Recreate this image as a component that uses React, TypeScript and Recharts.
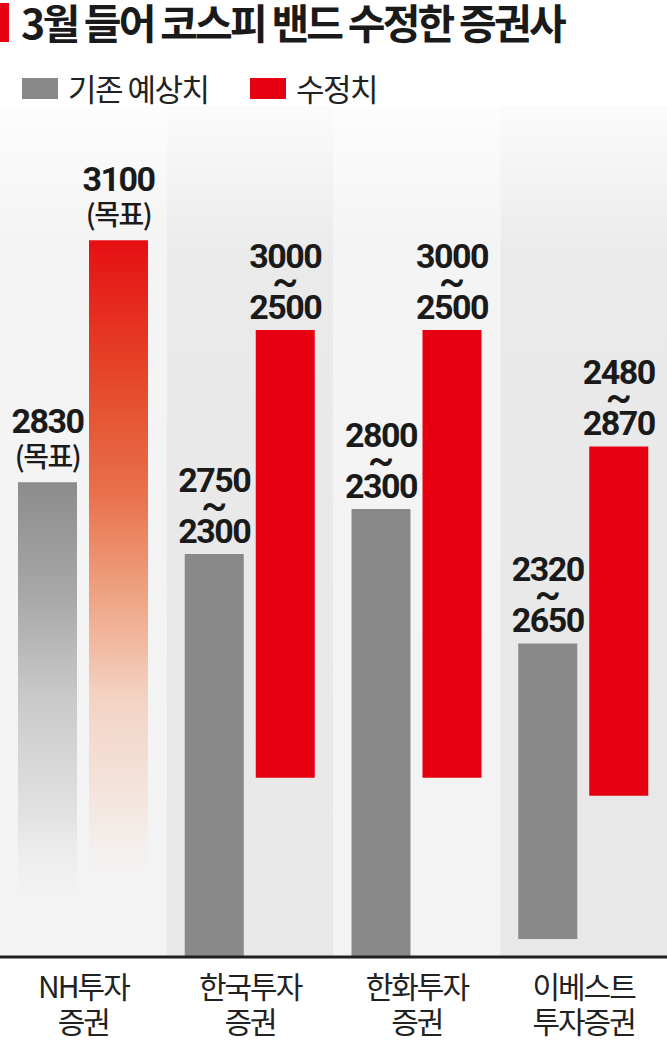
import React from 'react';
import { BarChart, Bar, XAxis, YAxis, Cell, LabelList, ReferenceArea } from 'recharts';

// 증권사별 코스피 밴드: 기존 예상치 vs 수정치
const companies = ['NH투자\n증권', '한국투자\n증권', '한화투자\n증권', '이베스트\n투자증권'];
const prevLow = [null, 2300, 2300, 2320];
const prevHigh = [2830, 2750, 2800, 2650];
const revLow = [null, 2500, 2500, 2480];
const revHigh = [3100, 3000, 3000, 2870];
const prevLabels = ['2830\n(목표)', '2750\n~\n2300', '2800\n~\n2300', '2320\n~\n2650'];
const revLabels = ['3100\n(목표)', '3000\n~\n2500', '3000\n~\n2500', '2480\n~\n2870'];

const Y_MIN = 2300;
const Y_MAX = 3250;

const GRAY = '#898989';
const RED = '#e60012';
const NUM_FONT = 'Roboto, "Liberation Sans", sans-serif';
const KR_FONT = '"Noto Sans CJK KR", "Noto Sans", sans-serif';

const data = companies.map((name, i) => ({
  name,
  prev: [prevLow[i] ?? Y_MIN, prevHigh[i]],
  rev: [revLow[i] ?? Y_MIN, revHigh[i]],
}));

const makeLabel = (labels: string[]) => (props: any) => {
  const vb = props.viewBox ?? props;
  const x = Number(props.x ?? vb.x);
  const y = Number(props.y ?? vb.y);
  const w = Number(props.width ?? vb.width);
  const idx = props.index;
  if (idx == null || !labels[idx]) return null;
  const lines = labels[idx].split('\n');
  const cx = x + w / 2;
  if (lines.length === 2) {
    return (
      <g>
        <text x={cx} y={y - 49} textAnchor="middle" fontFamily={NUM_FONT} fontWeight={700} fontSize={34} letterSpacing={-1.5} fill="#1a1a1a">
          {lines[0]}
        </text>
        <text x={cx} y={y - 15} textAnchor="middle" fontFamily={KR_FONT} fontWeight={500} fontSize={28} letterSpacing={-1.5} fill="#1a1a1a">
          {lines[1]}
        </text>
      </g>
    );
  }
  return (
    <g>
      <text x={cx} y={y - 62} textAnchor="middle" fontFamily={NUM_FONT} fontWeight={700} fontSize={34} letterSpacing={-1.5} fill="#1a1a1a">
        {lines[0]}
      </text>
      <text x={cx} y={y - 35} textAnchor="middle" fontFamily={NUM_FONT} fontWeight={500} fontSize={40} fill="#1a1a1a">
        {lines[1]}
      </text>
      <text x={cx} y={y - 11} textAnchor="middle" fontFamily={NUM_FONT} fontWeight={700} fontSize={34} letterSpacing={-1.5} fill="#1a1a1a">
        {lines[2]}
      </text>
    </g>
  );
};

const CategoryTick = (props: any) => {
  const { x, y, payload } = props;
  const lines = String(payload.value).split('\n');
  return (
    <g>
      {lines.map((line, i) => (
        <text key={i} x={x} y={y + 33 + i * 35} textAnchor="middle" fontFamily={KR_FONT} fontSize={30} letterSpacing={-2} fill="#222">
          {line}
        </text>
      ))}
    </g>
  );
};

export default function App() {
  return (
    <div style={{ position: 'relative', width: 667, height: 1042, background: '#fff', overflow: 'hidden' }}>
      <style>{'body{margin:0}'}</style>
      <BarChart
        width={667}
        height={1042}
        data={data}
        margin={{ top: 106, right: 0, bottom: 0, left: 0 }}
        barSize={59}
        barGap={12}
        style={{ position: 'absolute', top: 0, left: 0 }}
      >
        <defs>
          <linearGradient id="colA" x1="0" y1="0" x2="0" y2="1">
            <stop offset="0" stopColor="#fdfdfd" />
            <stop offset="0.15" stopColor="#f4f4f4" />
            <stop offset="1" stopColor="#f3f3f3" />
          </linearGradient>
          <linearGradient id="colB" x1="0" y1="0" x2="0" y2="1">
            <stop offset="0" stopColor="#fbfbfb" />
            <stop offset="0.18" stopColor="#eaeaea" />
            <stop offset="1" stopColor="#e8e8e8" />
          </linearGradient>
          <linearGradient id="nhGray" x1="0" y1="0" x2="0" y2="1">
            <stop offset="0" stopColor="#8c8c8c" />
            <stop offset="0.25" stopColor="#a9a9a9" />
            <stop offset="0.45" stopColor="#c9c9c9" />
            <stop offset="0.7" stopColor="#e2e2e2" />
            <stop offset="0.92" stopColor="#f3f3f3" stopOpacity="0" />
            <stop offset="1" stopColor="#f3f3f3" stopOpacity="0" />
          </linearGradient>
          <linearGradient id="nhRed" x1="0" y1="0" x2="0" y2="1">
            <stop offset="0" stopColor="#e60f14" />
            <stop offset="0.2" stopColor="#e54a2a" />
            <stop offset="0.35" stopColor="#e8704b" />
            <stop offset="0.5" stopColor="#efa585" />
            <stop offset="0.64" stopColor="#f3d3c4" />
            <stop offset="0.8" stopColor="#f4e8e2" />
            <stop offset="0.92" stopColor="#f4f4f4" stopOpacity="0" />
            <stop offset="1" stopColor="#f4f4f4" stopOpacity="0" />
          </linearGradient>
        </defs>
        {companies.map((c, i) => (
          <ReferenceArea key={c} x1={c} x2={c} fill={i % 2 === 0 ? 'url(#colA)' : 'url(#colB)'} fillOpacity={1} stroke="none" />
        ))}
        <XAxis
          dataKey="name"
          height={85}
          tickLine={false}
          axisLine={{ stroke: '#231f20', strokeWidth: 3 }}
          tick={<CategoryTick />}
          interval={0}
        />
        <YAxis hide domain={[Y_MIN, Y_MAX]} allowDataOverflow />
        <Bar dataKey="prev" isAnimationActive={false}>
          {data.map((d, i) => (
            <Cell key={d.name} fill={i === 0 ? 'url(#nhGray)' : GRAY} />
          ))}
          <LabelList dataKey="prev" content={makeLabel(prevLabels)} />
        </Bar>
        <Bar dataKey="rev" isAnimationActive={false}>
          {data.map((d, i) => (
            <Cell key={d.name} fill={i === 0 ? 'url(#nhRed)' : RED} />
          ))}
          <LabelList dataKey="rev" content={makeLabel(revLabels)} />
        </Bar>
      </BarChart>

      <div style={{ position: 'absolute', left: 0, top: 3, width: 9, height: 39, background: RED }} />
      <div
        style={{
          position: 'absolute',
          left: 21,
          top: 0,
          fontFamily: KR_FONT,
          fontWeight: 700,
          fontSize: 41,
          lineHeight: '42px',
          letterSpacing: -2.8,
          color: '#1a1a1a',
          whiteSpace: 'nowrap',
        }}
      >
        3월 들어 코스피 밴드 수정한 증권사
      </div>

      <div style={{ position: 'absolute', left: 22, top: 78, width: 36, height: 21, background: GRAY }} />
      <div style={{ position: 'absolute', left: 68, top: 67, fontFamily: KR_FONT, fontSize: 31, lineHeight: '42px', letterSpacing: -1.5, color: '#222', whiteSpace: 'nowrap' }}>
        기존 예상치
      </div>
      <div style={{ position: 'absolute', left: 250, top: 78, width: 36, height: 21, background: RED }} />
      <div style={{ position: 'absolute', left: 296, top: 67, fontFamily: KR_FONT, fontSize: 31, lineHeight: '42px', letterSpacing: -1.5, color: '#222', whiteSpace: 'nowrap' }}>
        수정치
      </div>
    </div>
  );
}
